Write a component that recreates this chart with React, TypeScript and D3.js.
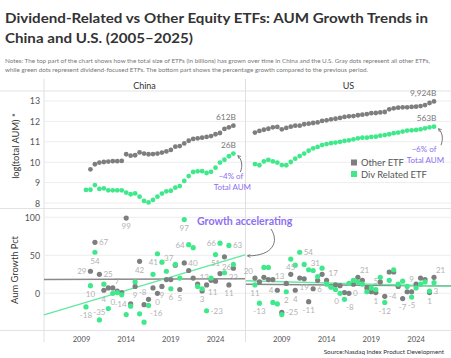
import React from 'react';
import * as d3 from 'd3';

const W = 451;
const H = 358;

// ---------- data ----------
const periodStep = 0.5; // half-year periods
const chinaOtherStart = 2010.0;
const chinaDivStart = 2009.5;
const usOtherStart = 2006.0;
const usDivStart = 2006.0;

// log10(total AUM, $)
const chinaOtherAUM = [9.65, 9.9, 9.98, 10.01, 10.03, 10.05, 10.05, 10.06, 10.39, 10.32, 10.34, 10.48, 10.42, 10.39, 10.4, 10.42, 10.47, 10.53, 10.6, 10.76, 10.79, 10.92, 11.05, 11.14, 11.17, 11.2, 11.24, 11.28, 11.37, 11.43, 11.63, 11.71, 11.79];
const chinaDivAUM = [8.64, 8.65, 8.88, 8.69, 8.72, 8.62, 8.62, 8.62, 8.62, 8.51, 8.43, 8.47, 8.31, 8.1, 8.03, 8.15, 8.31, 8.46, 8.57, 8.6, 8.75, 8.83, 9.08, 9.32, 9.52, 9.55, 9.56, 9.47, 9.53, 9.73, 9.98, 10.12, 10.29, 10.42];
const usOtherAUM = [11.45, 11.53, 11.59, 11.64, 11.71, 11.73, 11.61, 11.68, 11.74, 11.79, 11.79, 11.86, 11.89, 11.92, 11.95, 12.02, 12.05, 12.1, 12.13, 12.17, 12.22, 12.25, 12.26, 12.3, 12.33, 12.36, 12.4, 12.41, 12.44, 12.46, 12.59, 12.64, 12.67, 12.69, 12.69, 12.71, 12.72, 12.75, 12.8, 12.9, 12.98];
const usDivAUM = [9.91, 9.85, 10.04, 10.11, 10.04, 9.98, 9.86, 9.85, 10.01, 10.17, 10.3, 10.42, 10.56, 10.68, 10.75, 10.84, 10.89, 10.93, 10.96, 11.0, 11.04, 11.07, 11.12, 11.17, 11.2, 11.2, 11.24, 11.25, 11.3, 11.33, 11.37, 11.42, 11.45, 11.5, 11.55, 11.56, 11.58, 11.61, 11.66, 11.71, 11.74];

// AUM growth vs previous period, %
const chinaOtherGrowth = [29, 67, 25, 4, 7, 7, 3, 1, 99, -14, 9, 42, -15, -8, 7, 0, 9, 18, 18, 37, 5, 40, 30, 20, 12, 3, 11, 17, 16, 26, 48, 11, 33];
const chinaDivGrowth = [-18, 10, 54, -35, 12, -20, 0, 1, -2, -28, -17, 15, -27, -38, -16, 25, 52, 41, 29, 6, 38, 20, 97, 64, 60, 9, 6, -23, 20, 51, 66, 27, 63, 38];
const usOtherGrowth = [20, 15, 21, 18, 18, 4, -25, 13, 25, 4, 20, 19, -11, 6, 17, 25, 17, 9, 11, 10, 1, 0, 12, 21, 17, 7, 2, 1, 15, -4, 28, 28, 9, -7, 2, 2, 12, 20, 18, 1, 21];
const usDivGrowth = [11, -13, 34, 34, -12, -14, -28, 2, 45, 37, 54, 38, 31, 30, 22, 33, 12, 8, 5, 0, -8, 13, 17, 15, 12, 2, 7, 5, 21, -12, 17, 31, 12, 16, 9, -5, 7, 12, 15, 3, 14];

// which growth points carry a value label (index, placement)
const chinaOtherLabelled: [number, string][] = [[0, 'l'], [1, 'r'], [2, 'r'], [3, 'b'], [5, 'tr'], [8, 'b'], [9, 'l'], [10, 'b'], [11, 'b'], [13, 'tl'], [15, 'b'], [16, 'b'], [19, 'tl'], [20, 'b'], [21, 'r'], [24, 'tr'], [25, 'b'], [26, 'br'], [29, 'tr'], [31, 'b'], [32, 'b']];
const chinaDivLabelled: [number, string][] = [[0, 'b'], [1, 'b'], [2, 'b'], [3, 't'], [6, 'b'], [14, 'br'], [17, 'l'], [19, 'b'], [22, 'b'], [23, 'l'], [27, 'r'], [29, 'b'], [30, 'l'], [32, 'r']];
const usOtherLabelled: [number, string][] = [[0, 'tl'], [5, 'l'], [6, 'r'], [7, 'tl'], [9, 'b'], [11, 'b'], [12, 'b'], [13, 'r'], [16, 'tr'], [21, 'r'], [23, 'tr'], [27, 'b'], [29, 'r'], [33, 'b'], [39, 'b'], [40, 'tr']];
const usDivLabelled: [number, string][] = [[0, 'b'], [1, 'b'], [7, 'b'], [8, 'b'], [10, 'r'], [12, 'tr'], [19, 'bl'], [20, 'br'], [27, 't'], [29, 'b'], [34, 'tr'], [35, 'b'], [39, 'r']];

const chinaEndLabels = ['612B', '26B'];
const usEndLabels = ['9,924B', '563B'];
const chinaShare = ['~4% of', 'Total AUM'];
const usShare = ['~6% of', 'Total AUM'];

const topTicks = [8, 9, 10, 11, 12, 13];
const bottomTicks = [0, 50, 100];
const yearTicks = [2009, 2014, 2019, 2024];
const panelNames = ['China', 'US'];
const seriesNames = ['Other ETF', 'Div Related ETF'];

// ---------- style ----------
const FONT = "Lato, 'Open Sans', sans-serif";
const GRAY = '#7e7e7e';
const GREEN = '#3fe98b';
const PURPLE = '#8e6ff0';

const xL = d3.scaleLinear().domain([2004.8, 2027.3]).range([44, 245]);
const xR = d3.scaleLinear().domain([2005.0, 2027.9]).range([246, 451]);
const yTop = d3.scaleLinear().domain([7.755, 13.44]).range([208, 92]);
const yBot = d3.scaleLinear().domain([-48.3, 110.9]).range([330, 209]);

type Series = { start: number; aum: number[]; growth: number[]; labels: [number, string][] };

const times = (start: number, n: number) => d3.range(n).map((i) => start + i * periodStep);

function regression(ts: number[], vs: number[]) {
  const mt = d3.mean(ts) as number;
  const mv = d3.mean(vs) as number;
  let num = 0;
  let den = 0;
  ts.forEach((t, i) => {
    num += (t - mt) * (vs[i] - mv);
    den += (t - mt) * (t - mt);
  });
  const slope = num / den;
  return (t: number) => mv + slope * (t - mt);
}

const placement: Record<string, { dx: number; dy: number; anchor: string }> = {
  b: { dx: 0, dy: 8.3, anchor: 'middle' },
  t: { dx: 0, dy: -8.3, anchor: 'middle' },
  r: { dx: 4, dy: 0, anchor: 'start' },
  l: { dx: -4, dy: 0, anchor: 'end' },
  tr: { dx: 2, dy: -7, anchor: 'start' },
  tl: { dx: -2, dy: -7, anchor: 'end' },
  br: { dx: 1.5, dy: 7.5, anchor: 'start' },
  bl: { dx: -1, dy: 7.5, anchor: 'end' },
};

function Panel({ x, other, div, endLabels, share, shareDx }: { x: d3.ScaleLinear<number, number>; other: Series; div: Series; endLabels: string[]; share: string[]; shareDx: number }) {
  const [x0, x1] = x.range();
  const [d0, d1] = x.domain();
  const series = [
    { s: other, color: GRAY },
    { s: div, color: GREEN },
  ];
  const trends = series.map(({ s, color }) => {
    const ts = times(s.start, s.growth.length);
    const f = regression(ts, s.growth);
    return { color, y0: yBot(f(d0)), y1: yBot(f(d1)) };
  });
  const lastOther = { t: other.start + (other.aum.length - 1) * periodStep, v: other.aum[other.aum.length - 1] };
  const lastDiv = { t: div.start + (div.aum.length - 1) * periodStep, v: div.aum[div.aum.length - 1] };
  const lo = { x: x(lastOther.t), y: yTop(lastOther.v) };
  const ld = { x: x(lastDiv.t), y: yTop(lastDiv.v) };
  return (
    <g>
      {topTicks.map((t) => (
        <line key={'tg' + t} x1={x0} x2={x1} y1={yTop(t)} y2={yTop(t)} stroke="#ededed" strokeWidth={1} />
      ))}
      {bottomTicks.map((t) => (
        <line key={'bg' + t} x1={x0} x2={x1} y1={yBot(t)} y2={yBot(t)} stroke="#ededed" strokeWidth={1} />
      ))}
      {series.map(({ s, color }, k) => (
        <g key={'top' + k}>
          {s.aum.map((v, i) => (
            <circle key={i} cx={x(s.start + i * periodStep)} cy={yTop(v)} r={2.4} fill={color} />
          ))}
        </g>
      ))}
      <text x={lo.x + 2.5} y={lo.y - 8.5} fontSize={8.3} fill="#777" textAnchor="end" dominantBaseline="central">{endLabels[0]}</text>
      <text x={ld.x + 2.5} y={ld.y - 8.5} fontSize={8.3} fill="#777" textAnchor="end" dominantBaseline="central">{endLabels[1]}</text>
      <text x={ld.x + shareDx} y={ld.y + 22.5} fontSize={8} fill={PURPLE} textAnchor="middle" dominantBaseline="central">{share[0]}</text>
      <text x={ld.x + shareDx + 1.5} y={ld.y + 33.5} fontSize={8} fill={PURPLE} textAnchor="middle" dominantBaseline="central">{share[1]}</text>
      <path d={`M${ld.x + 7},${ld.y + 18.5} C${ld.x + 9.5},${ld.y + 12} ${ld.x + 8.5},${ld.y + 6} ${ld.x + 4.5},${ld.y + 2}`} fill="none" stroke="#555" strokeWidth={0.8} markerEnd="url(#ah)" />
      {trends.map((tr, k) => (
        <line key={'tr' + k} x1={x0} x2={x1} y1={tr.y0} y2={tr.y1} stroke={tr.color === GRAY ? '#8a8a8a' : '#62e9a0'} strokeWidth={1.4} />
      ))}
      {series.map(({ s, color }, k) => (
        <g key={'bot' + k}>
          {s.growth.map((v, i) => (
            <circle key={i} cx={x(s.start + i * periodStep)} cy={yBot(v)} r={2.6} fill={color} />
          ))}
        </g>
      ))}
      {series.map(({ s }, k) => (
        <g key={'lab' + k}>
          {s.labels.map(([i, pos]) => {
            const p = placement[pos];
            return (
              <text key={i} x={x(s.start + i * periodStep) + p.dx} y={yBot(s.growth[i]) + p.dy} fontSize={8} fill="#b3b3b3" textAnchor={p.anchor as any} dominantBaseline="central">
                {s.growth[i]}
              </text>
            );
          })}
        </g>
      ))}
      {yearTicks.map((yr) => (
        <text key={'yr' + yr} x={x(yr)} y={341.5} fontSize={7.6} fill="#555" textAnchor="middle">{yr}</text>
      ))}
    </g>
  );
}

export default function App() {
  React.useEffect(() => {
    document.body.style.margin = '0';
  }, []);

  const china = {
    other: { start: chinaOtherStart, aum: chinaOtherAUM, growth: chinaOtherGrowth, labels: chinaOtherLabelled },
    div: { start: chinaDivStart, aum: chinaDivAUM, growth: chinaDivGrowth, labels: chinaDivLabelled },
  };
  const us = {
    other: { start: usOtherStart, aum: usOtherAUM, growth: usOtherGrowth, labels: usOtherLabelled },
    div: { start: usDivStart, aum: usDivAUM, growth: usDivGrowth, labels: usDivLabelled },
  };
  const chinaTrend = regression(times(chinaDivStart, chinaDivGrowth.length), chinaDivGrowth);
  const tgtX = xL.range()[1] + 2.5;
  const tgtY = yBot(chinaTrend(xL.domain()[1])) + 1;

  return (
    <svg width={W} height={H} style={{ display: 'block', background: '#fff' }} fontFamily={FONT}>
      <defs>
        <marker id="ah" viewBox="0 0 10 10" refX="8" refY="5" markerWidth="5" markerHeight="5" orient="auto">
          <path d="M1,1 L8,5 L1,9" fill="none" stroke="#555" strokeWidth={1.6} />
        </marker>
      </defs>
      <text x={5} y={22.5} fontSize={14} fontWeight={700} fill="#333" textLength={423} lengthAdjust="spacingAndGlyphs">Dividend-Related vs Other Equity ETFs: AUM Growth Trends in</text>
      <text x={5} y={42.5} fontSize={14} fontWeight={700} fill="#333" textLength={188} lengthAdjust="spacingAndGlyphs">China and U.S. (2005–2025)</text>
      <text x={5} y={63} fontSize={5.8} fill="#777" textLength={425} lengthAdjust="spacingAndGlyphs">Notes: The top part of the chart shows how the total size of ETFs (in billions) has grown over time in China and the U.S. Gray dots represent all other ETFs,</text>
      <text x={5} y={71.8} fontSize={5.8} fill="#777" textLength={363} lengthAdjust="spacingAndGlyphs">while green dots represent dividend-focused ETFs. The bottom part shows the percentage growth compared to the previous period.</text>

      <line x1={0} x2={W} y1={91} y2={91} stroke="#e3e3e3" />
      <line x1={0} x2={W} y1={208.5} y2={208.5} stroke="#e3e3e3" />
      <line x1={0} x2={W} y1={330.5} y2={330.5} stroke="#e3e3e3" />
      <line x1={44} x2={44} y1={79} y2={342} stroke="#e0e0e0" />
      <line x1={245.5} x2={245.5} y1={79} y2={342} stroke="#e0e0e0" />

      <text x={(xL.range()[0] + xL.range()[1]) / 2} y={89} fontSize={9} fill="#333" textAnchor="middle">{panelNames[0]}</text>
      <text x={(xR.range()[0] + xR.range()[1]) / 2} y={89} fontSize={9} fill="#333" textAnchor="middle">{panelNames[1]}</text>

      {topTicks.map((t) => (
        <text key={'yt' + t} x={40} y={yTop(t)} fontSize={8.8} fill="#555" textAnchor="end" dominantBaseline="central">{t}</text>
      ))}
      {bottomTicks.map((t) => (
        <text key={'yb' + t} x={40} y={yBot(t)} fontSize={8.8} fill="#555" textAnchor="end" dominantBaseline="central">{t}</text>
      ))}
      <text transform="translate(15,146) rotate(-90)" fontSize={9.3} fill="#333" textAnchor="middle" dominantBaseline="central">log(total AUM) *</text>
      <text transform="translate(14,270) rotate(-90)" fontSize={9.3} fill="#333" textAnchor="middle" dominantBaseline="central">Aum Growth Pct</text>

      <Panel x={xL} other={china.other} div={china.div} endLabels={chinaEndLabels} share={chinaShare} shareDx={-2.5} />
      <Panel x={xR} other={us.other} div={us.div} endLabels={usEndLabels} share={usShare} shareDx={-10} />

      <rect x={351} y={159.5} width={6} height={6} fill={GRAY} />
      <text x={361} y={162.5} fontSize={9.4} fill="#555" dominantBaseline="central">{seriesNames[0]}</text>
      <rect x={351} y={171} width={6} height={6} fill={GREEN} />
      <text x={361} y={174} fontSize={9.4} fill="#555" dominantBaseline="central">{seriesNames[1]}</text>

      <text x={197} y={221} fontSize={10.6} fontWeight={700} fill={PURPLE} dominantBaseline="central">Growth accelerating</text>
      <path d={`M271,229 C279,241 274,${tgtY} ${tgtX},${tgtY}`} fill="none" stroke="#555" strokeWidth={0.8} markerEnd="url(#ah)" />

      <text x={444} y={354} fontSize={6.3} fill="#333" textAnchor="end">Source:Nasdaq Index Product Development</text>
    </svg>
  );
}
